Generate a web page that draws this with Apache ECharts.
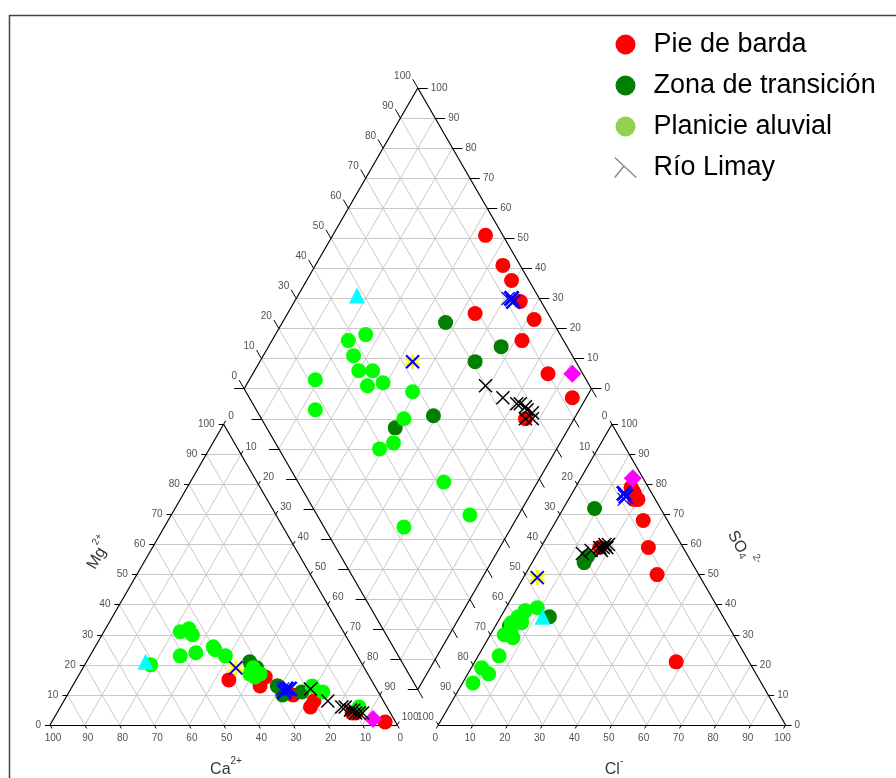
<!DOCTYPE html>
<html>
<head>
<meta charset="utf-8">
<script src="https://cdn.jsdelivr.net/npm/echarts@6.0.0/dist/echarts.min.js"></script>
<style>
html, body { margin: 0; padding: 0; background: #fff; }
#chart { width: 896px; height: 778px; }
</style>
</head>
<body>
<div id="chart"></div>
<script>
// Each sample: [Ca2+, Mg2+, Cl-, SO4 2-] in % meq/L.
// Na+ + K+ = 100 - Ca - Mg ; HCO3- + CO3 2- = 100 - Cl - SO4
const pieDeBarda = [
  [41, 15, 16, 79], [30, 16, 18, 77], [28, 13, 17, 78], [25, 10, 19, 75],
  [33, 13, 58, 21], [22, 6, 20, 75], [20, 8, 38, 50], [11, 4, 31, 59],
  [3, 1, 25, 68], [10, 4, 17, 59]
];
const zonaTransicion = [
  [32, 21, 15, 54], [22, 11, 9, 72], [28, 10, 15, 56], [28, 13, 14, 36],
  [31, 19, 4, 33]
];
const planicieAluvial = [
  [61, 20, 3, 19], [44, 32, 3, 14], [47, 31, 4, 34], [51, 23, 6, 38],
  [44, 30, 5, 32], [46, 24, 5, 31], [40, 26, 6, 34], [40, 25, 7, 29],
  [38, 23, 5, 36], [32, 19, 9, 39], [33, 16, 7, 34], [31, 17, 4, 30],
  [34, 17, 6, 23], [16, 11, 6, 36], [8, 6, 6, 38], [18, 13, 6, 17]
];
const rioLimay = [
  [19, 12, 13, 57], [16, 8, 15, 58], [13, 6, 17, 59], [12, 6, 18, 59],
  [11, 5, 18, 60], [10, 5, 19, 59], [9, 4, 19, 60], [10, 4, 18, 58],
  [8, 4, 19, 59]
];
const muestraCian = [[62, 21, 12, 36]];
const muestraMagenta = [[6, 2, 15, 82]];
const muestraAzul = [[26, 12, 15, 77], [25, 12, 16, 76], [27, 11, 15, 77]];
const muestraAzulFina = [[27, 12, 16, 75]];
const muestraAzulAmarilla = [[37, 19, 4, 49]];
const tickValues = [0, 10, 20, 30, 40, 50, 60, 70, 80, 90, 100];

// ---- geometry (units: triangle side = 100) ----
const K = 3.473;               // px per unit
const OX = 50, OY = 725;       // px position of the Ca corner
const GAP = 11.8;              // space between the two triangles
const H = Math.sqrt(3) / 2;
const AX0 = 100 + GAP;         // x of the HCO3 corner of the anion triangle
const DT = [100 + GAP / 2, GAP * H + 200 * H]; // top of the diamond

function cationXY(s) { const na = 100 - s[0] - s[1]; return [na + s[1] / 2, s[1] * H]; }
function anionXY(s) { return [AX0 + s[2] + s[3] / 2, s[3] * H]; }
function diamondFrac(a, b) { return [DT[0] + 50 * (a - b), DT[1] - 100 * H * (a + b)]; }
function diamondXY(s) { return diamondFrac((100 - s[0] - s[1]) / 100, (100 - s[2] - s[3]) / 100); }
function allXY(list) {
  const out = [];
  list.forEach(s => { out.push(cationXY(s)); out.push(anionXY(s)); out.push(diamondXY(s)); });
  return out;
}
function shift(p, dx, dy) { return [p[0] + dx / K, p[1] - dy / K]; } // px offsets, y down
function along(p, dir, len) { return [p[0] + dir[0] * len / K, p[1] + dir[1] * len / K]; }
function unitOf(px, py) { return [(px - OX) / K, (OY - py) / K]; }

const LEFT = [-1, 0], RIGHT = [1, 0];
const UPR = [0.5, H], UPL = [-0.5, H], DNR = [0.5, -H], DNL = [-0.5, -H];

const gridSegs = [], frameSegs = [], tickSegs = [], tickLabels = [];
function addTick(p, dir, len) { tickSegs.push({ coords: [p, along(p, dir, len)] }); }
function addLabel(p, text, align) {
  tickLabels.push({ value: p, label: { formatter: text, align: align, verticalAlign: 'middle' } });
}

// cation triangle
frameSegs.push({ coords: [[0, 0], [100, 0]] }, { coords: [[0, 0], [50, 100 * H]] }, { coords: [[100, 0], [50, 100 * H]] });
// anion triangle
frameSegs.push({ coords: [[AX0, 0], [AX0 + 100, 0]] }, { coords: [[AX0, 0], [AX0 + 50, 100 * H]] }, { coords: [[AX0 + 100, 0], [AX0 + 50, 100 * H]] });
// diamond
const dTop = diamondFrac(0, 0), dRight = diamondFrac(1, 0), dBottom = diamondFrac(1, 1), dLeft = diamondFrac(0, 1);
frameSegs.push({ coords: [dTop, dRight] }, { coords: [dRight, dBottom] }, { coords: [dBottom, dLeft] }, { coords: [dLeft, dTop] });

for (let i = 10; i <= 90; i += 10) {
  // cation grid
  gridSegs.push({ coords: [[i / 2, i * H], [100 - i / 2, i * H]] });
  gridSegs.push({ coords: [[100 - i, 0], [(100 - i) / 2, (100 - i) * H]] });
  gridSegs.push({ coords: [[i, 0], [i + (100 - i) / 2, (100 - i) * H]] });
  // anion grid
  gridSegs.push({ coords: [[AX0 + i / 2, i * H], [AX0 + 100 - i / 2, i * H]] });
  gridSegs.push({ coords: [[AX0 + i, 0], [AX0 + i + (100 - i) / 2, (100 - i) * H]] });
  gridSegs.push({ coords: [[AX0 + 100 - i, 0], [AX0 + (100 - i) / 2, (100 - i) * H]] });
  // diamond diagonals
  gridSegs.push({ coords: [diamondFrac(i / 100, 0), diamondFrac(i / 100, 1)] });
  gridSegs.push({ coords: [diamondFrac(0, i / 100), diamondFrac(1, i / 100)] });
}
for (let j = 1; j <= 19; j++) {
  const s = j / 10;
  const a0 = Math.max(0, s - 1), a1 = Math.min(1, s);
  gridSegs.push({ coords: [diamondFrac(a0, s - a0), diamondFrac(a1, s - a1)] });
}

tickValues.forEach(v => {
  const t = String(v);
  // cation: Mg (left), Ca (bottom), Na+K (right)
  let p = [v / 2, v * H];
  addTick(p, LEFT, 5); addLabel(shift(p, -9, 0), t, 'right');
  p = [100 - v, 0];
  addTick(p, DNR, 4); addLabel(shift(p, 3, 13), t, 'center');
  p = [50 + v / 2, (100 - v) * H];
  addTick(p, UPR, 4); addLabel(shift(p, 4.5, -7.5), t, 'left');
  // anion: Cl (bottom), SO4 (right), HCO3 (left)
  p = [AX0 + v, 0];
  addTick(p, DNL, 4); addLabel(shift(p, -3, 13), t, 'center');
  p = [AX0 + 100 - v / 2, v * H];
  addTick(p, RIGHT, 6); addLabel(shift(p, 9, 0), t, 'left');
  p = [AX0 + 50 - v / 2, (100 - v) * H];
  addTick(p, UPL, 4); addLabel(shift(p, -4.5, -7.5), t, 'right');
  // diamond
  const f = v / 100;
  p = diamondFrac(0, 1 - f);
  addTick(p, UPL, 10); addLabel(shift(p, -7, -12), t, 'right');
  p = diamondFrac(1 - f, 0);
  addTick(p, RIGHT, 10); addLabel(shift(p, 13, 0), t, 'left');
  addTick(diamondFrac(f, 1), LEFT, 10);
  addTick(diamondFrac(1, f), DNR, 10);
});

const FONT = 'Liberation Sans, Arial, sans-serif';
const titleRich = {
  b: { fontSize: 16, fontFamily: FONT, color: '#000', verticalAlign: 'bottom', lineHeight: 22 },
  s: { fontSize: 10, fontFamily: FONT, color: '#000', verticalAlign: 'top', lineHeight: 22 },
  d: { fontSize: 10, fontFamily: FONT, color: '#000', verticalAlign: 'bottom', lineHeight: 18 }
};
const axisTitles = [
  { value: unitOf(226, 767), label: { formatter: '{b|Ca}{s|2+}' } },
  { value: unitOf(614, 767), label: { formatter: '{b|Cl}{s|-}' } },
  { value: unitOf(97, 552), label: { formatter: '{b|Mg}{s|2+}', rotate: 60 } },
  { value: unitOf(744, 548), label: { formatter: '{b|SO}{d|4}{s| 2-}', rotate: -60 } }
];

const X_PATH = 'path://M0,0L10,10M10,0L0,10';
const STAR_PATH = 'path://M5,0L5,10M0,2.5L10,7.5M0,7.5L10,2.5';

function markerSeries(name, list, symbol, size, itemStyle, z) {
  return {
    name: name, type: 'scatter', symbol: symbol, symbolSize: size,
    data: allXY(list), itemStyle: itemStyle, z: z, silent: true, animation: false
  };
}

const option = {
  animation: false,
  grid: { left: 0, right: 0, top: 0, bottom: 0, containLabel: false },
  xAxis: { type: 'value', min: -OX / K, max: (896 - OX) / K, show: false },
  yAxis: { type: 'value', min: -(778 - OY) / K, max: OY / K, show: false },
  legend: {
    orient: 'vertical', left: 609, top: 26,
    itemWidth: 22, itemHeight: 20, itemGap: 14,
    textStyle: { fontSize: 27, fontFamily: FONT, color: '#000', lineHeight: 24, padding: [0, 0, 0, 12] },
    data: [
      { name: 'Pie de barda', icon: 'circle' },
      { name: 'Zona de transición', icon: 'circle' },
      { name: 'Planicie aluvial', icon: 'circle', itemStyle: { color: '#92d050' } },
      { name: 'Río Limay', icon: 'path://M0,0L28,26M12,11L0,26',
        itemStyle: { color: 'transparent', borderColor: '#8c8c8c', borderWidth: 1.5 } }
    ]
  },
  graphic: [{
    type: 'rect', silent: true,
    shape: { x: 9.5, y: 15.5, width: 900, height: 800 },
    style: { fill: 'none', stroke: '#444', lineWidth: 1.5 }
  }],
  series: [
    { type: 'lines', coordinateSystem: 'cartesian2d', data: gridSegs, silent: true, z: 1,
      lineStyle: { color: '#c8c8c8', width: 1, opacity: 1 } },
    { type: 'lines', coordinateSystem: 'cartesian2d', data: frameSegs, silent: true, z: 2,
      lineStyle: { color: '#000', width: 1.2, opacity: 1 } },
    { type: 'lines', coordinateSystem: 'cartesian2d', data: tickSegs, silent: true, z: 2,
      lineStyle: { color: '#000', width: 1, opacity: 1 } },
    { type: 'scatter', data: tickLabels, symbolSize: 0, silent: true, z: 6,
      label: { show: true, position: [0, 0], fontSize: 10, fontFamily: FONT, color: '#222' } },
    { type: 'scatter', data: axisTitles, symbolSize: 0, silent: true, z: 6,
      label: { show: true, position: [0, 0], align: 'center', verticalAlign: 'middle', rich: titleRich } },
    markerSeries('Pie de barda', pieDeBarda, 'circle', 15, { color: '#ff0000', opacity: 1 }, 3),
    markerSeries('Zona de transición', zonaTransicion, 'circle', 15, { color: '#008000', opacity: 1 }, 3),
    markerSeries('Planicie aluvial', planicieAluvial, 'circle', 15, { color: '#00ff00', opacity: 1 }, 3),
    markerSeries('cian', muestraCian, 'triangle', 16, { color: '#00ffff', opacity: 1 }, 4),
    markerSeries('magenta', muestraMagenta, 'diamond', 18, { color: '#ff00ff', opacity: 1 }, 4),
    markerSeries('amarilla', muestraAzulAmarilla, STAR_PATH, 15,
      { color: 'transparent', borderColor: '#ffff00', borderWidth: 3, opacity: 1 }, 4),
    markerSeries('azul-amarilla', muestraAzulAmarilla, X_PATH, 13,
      { color: 'transparent', borderColor: '#0000ff', borderWidth: 2, opacity: 1 }, 4),
    markerSeries('azul', muestraAzul, X_PATH, 14,
      { color: 'transparent', borderColor: '#0000ff', borderWidth: 2.5, opacity: 1 }, 4),
    markerSeries('azul fina', muestraAzulFina, X_PATH, 13,
      { color: 'transparent', borderColor: '#0000ff', borderWidth: 1.2, opacity: 1 }, 4),
    markerSeries('Río Limay', rioLimay, X_PATH, 13,
      { color: 'transparent', borderColor: '#000000', borderWidth: 1.5, opacity: 1 }, 5)
  ]
};

const chart = echarts.init(document.getElementById('chart'), null, { renderer: 'canvas' });
chart.setOption(option);
</script>
</body>
</html>
